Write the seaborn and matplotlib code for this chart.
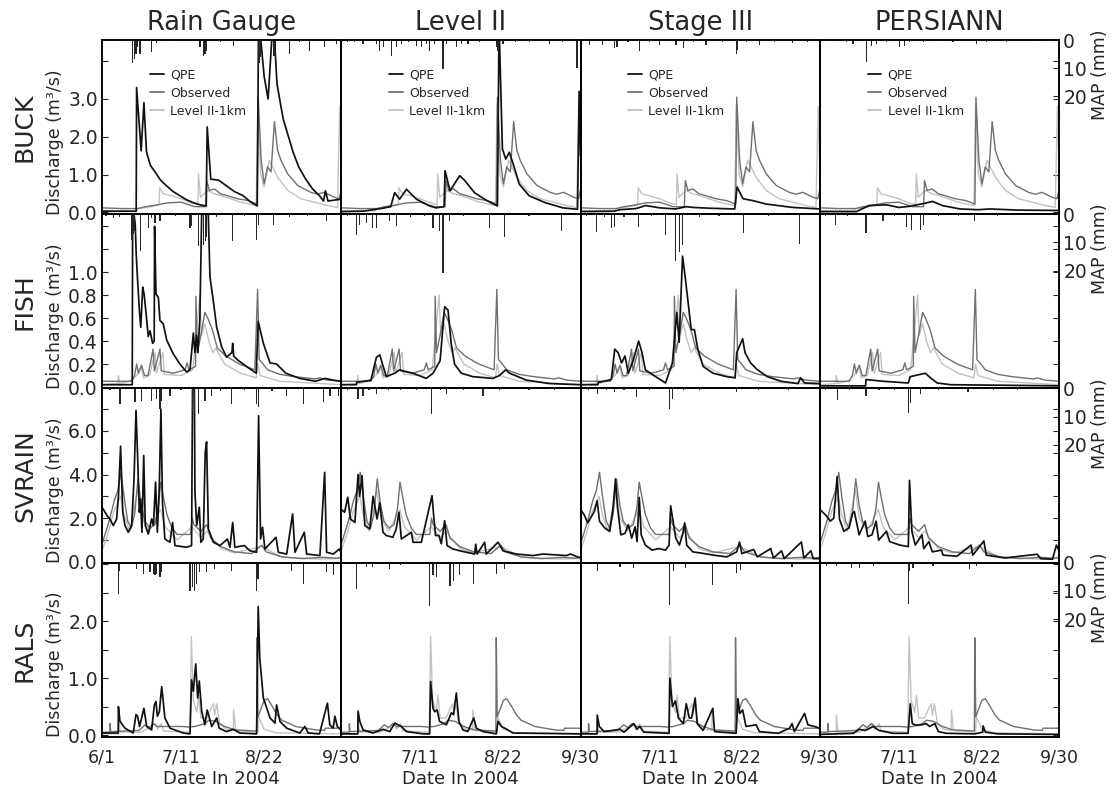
import matplotlib
matplotlib.use("Agg")
import matplotlib.pyplot as plt
import pandas as pd
import seaborn as sns
from matplotlib.lines import Line2D

# ---------------------------------------------------------------------------
# Layout labels
# ---------------------------------------------------------------------------
PRODUCTS = ["Rain Gauge", "Level II", "Stage III", "PERSIANN"]
BASINS = ["BUCK", "FISH", "SVRAIN", "RALS"]
SERIES_NAMES = ["QPE", "Observed", "Level II-1km"]

# days counted from 6/1/2004
TICK_DAYS = [0, 40, 82, 121]
TICK_LABELS = ["6/1", "7/11", "8/22", "9/30"]
MINOR_DAYS = [20, 61, 101.5]

# discharge axis per basin
Y_LIMITS = [(-0.05, 4.56), (-0.013, 1.505), (-0.05, 7.95), (-0.035, 3.03)]
Y_TICKS = [
    [0, 1, 2, 3, 4],
    [0, 0.2, 0.4, 0.6, 0.8, 1.0, 1.2, 1.4],
    [0, 1, 2, 3, 4, 5, 6, 7],
    [0, 0.5, 1.0, 1.5, 2.0, 2.5, 3.0],
]
Y_TICK_LABELS = [
    ["0.0", "1.0", "2.0", "3.0", ""],
    ["0.0", "0.2", "0.4", "0.6", "0.8", "1.0", "", ""],
    ["0.0", "", "2.0", "", "4.0", "", "6.0", ""],
    ["0.0", "", "1.0", "", "2.0", "", ""],
]

# mean areal precipitation axis (hanging bars)
MAP_MAX = 61.8
MAP_TICKS = [0, 10, 20]

# ---------------------------------------------------------------------------
# Discharge (m3/s): (day, value) pairs
# ---------------------------------------------------------------------------
BUCK_OBS = [(0, 0.12), (10, 0.1), (18, 0.1), (22, 0.15), (28, 0.2), (33, 0.25), (40, 0.27),
            (44, 0.2), (47, 0.15), (52.5, 0.15), (53, 0.84), (54.3, 0.58), (56.8, 0.62),
            (60, 0.49), (63.5, 0.44), (68.5, 0.36), (74, 0.31), (78.5, 0.22), (79.0, 3.05),
            (80.5, 1.38), (82, 0.76), (83.7, 1.2), (85.5, 1.07), (87.2, 2.4), (88.8, 1.64),
            (90.5, 1.38), (93.9, 1.02), (99, 0.71), (105.6, 0.53), (109, 0.48), (112.4, 0.53),
            (117.5, 0.4), (120, 0.36), (121, 0.6)]
BUCK_L2 = [(0, 0.05), (17, 0.04), (18.5, 0.1), (25, 0.15), (28.8, 0.2), (29.2, 0.65), (31, 0.49),
           (35, 0.44), (40, 0.36), (45, 0.25), (48.5, 0.2), (48.8, 1.02), (49.8, 0.4),
           (53.4, 0.58), (56.8, 0.49), (60, 0.45), (65, 0.36), (70, 0.27), (78, 0.18),
           (78.8, 2.85), (80.2, 1.02), (82, 0.67), (84.6, 1.38), (86.3, 1.2), (88.8, 0.93),
           (93.9, 0.58), (100.6, 0.36), (107.4, 0.27), (114, 0.18), (119.1, 0.13),
           (120.2, 2.8), (121, 1.2)]
BUCK_QPE_GAUGE = [(0, 0.03), (17.3, 0.03), (17.5, 3.3), (19.8, 1.63), (21.2, 2.9), (22.5, 1.6),
                  (24.5, 1.24), (27, 1.06), (29.5, 0.86), (32.7, 0.7), (36, 0.55), (39.4, 0.44),
                  (42.5, 0.34), (46, 0.26), (49.5, 0.2), (52.7, 0.17),
                  (53.2, 2.26), (55, 0.88), (59, 0.85), (63, 0.7), (67, 0.55), (71.4, 0.44),
                  (75, 0.28), (78.5, 0.17),
                  (79.2, 5.2), (82, 3.6), (84, 3.0), (86.6, 5.2), (88.5, 3.4), (91.6, 2.48),
                  (96.6, 1.6), (99.5, 1.2), (103, 0.88), (106.5, 0.62), (110, 0.44), (112, 0.3),
                  (113, 0.57), (114.3, 0.3), (117, 0.32), (121, 0.35)]
BUCK_QPE_LEVEL2 = [(0, 0.02), (10.8, 0.03), (20, 0.1), (25, 0.15), (27, 0.52), (29.5, 0.35),
                   (33, 0.61), (38, 0.35), (44.6, 0.17), (48, 0.12), (52, 0.15), (52.5, 1.1),
                   (55, 0.57), (59.9, 0.97), (62.5, 0.84), (67.4, 0.52), (74, 0.3), (79, 0.17),
                   (79.8, 5.0), (81.5, 1.68), (83.2, 1.41), (85, 1.59), (87.5, 1.19), (90, 0.75),
                   (95, 0.44), (103, 0.26), (112, 0.12), (119.5, 0.08), (120.3, 3.2), (121, 1.5)]
BUCK_QPE_STAGE3 = [(0, 0.02), (17, 0.03), (20, 0.07), (28, 0.1), (33, 0.18), (40, 0.12),
                   (48, 0.09), (53.5, 0.15), (57, 0.13), (65, 0.11), (78, 0.09), (79.2, 0.67),
                   (82.2, 0.36), (87.2, 0.31), (93.9, 0.22), (107.4, 0.13), (121, 0.09)]
BUCK_QPE_PERSIANN = [(0, 0.02), (18.5, 0.02), (25, 0.18), (33.7, 0.2), (40, 0.13), (45.5, 0.16),
                     (54, 0.25), (57, 0.29), (62, 0.18), (71, 0.09), (80, 0.07), (86, 0.09),
                     (100, 0.06), (121, 0.05)]

FISH_OBS = [(0, 0.05), (15, 0.05), (16.5, 0.1), (17.5, 0.2), (18.5, 0.12), (20, 0.19),
            (21.5, 0.1), (23.3, 0.1), (25.8, 0.33), (26.5, 0.14), (29.3, 0.33), (30, 0.14),
            (36, 0.12), (42, 0.15), (43, 0.21), (44, 0.15), (47.3, 0.18), (47.5, 0.79),
            (48.2, 0.3), (50, 0.45), (52, 0.65), (53.5, 0.6), (55.8, 0.5), (58.3, 0.34),
            (62.6, 0.27), (69.5, 0.2), (77.3, 0.15), (78.7, 0.85), (79.5, 0.24), (81, 0.21),
            (83.7, 0.15), (90, 0.11), (97.4, 0.09), (108, 0.07), (110, 0.08), (114, 0.06),
            (121, 0.05)]
FISH_L2 = [(0, 0.02), (8, 0.03), (8.3, 0.1), (9, 0.03), (14, 0.05), (17.5, 0.1), (19.8, 0.18),
           (21, 0.08), (24, 0.1), (26.8, 0.3), (27.5, 0.12), (30.8, 0.3), (31.5, 0.11),
           (40, 0.1), (46, 0.15), (49.5, 0.8), (50.3, 0.45), (52, 0.55), (54, 0.4), (56, 0.3),
           (57.5, 0.34), (62, 0.2), (70, 0.12), (78, 0.08), (78.8, 0.2), (80, 0.1), (90, 0.05),
           (121, 0.02)]
FISH_QPE_GAUGE = [(0, 0.02), (15.3, 0.02), (15.5, 1.6), (16.8, 1.42), (17.3, 1.16), (17.9, 0.96),
                  (18.9, 0.67), (19.6, 0.52), (20.6, 0.87), (21.3, 0.81), (22.3, 0.64),
                  (23.4, 0.44), (24.3, 0.49), (25.6, 0.38), (26.4, 0.4), (26.6, 1.4),
                  (27.3, 0.81), (28.5, 0.78), (29.3, 0.58), (31, 0.55), (32.7, 0.41), (36, 0.29),
                  (39.4, 0.2), (42.8, 0.13), (44.5, 0.15), (46.2, 0.47), (47, 0.3), (47.8, 0.45),
                  (48.5, 0.3), (49.5, 0.6), (50.5, 1.6), (53.6, 1.6), (54.6, 0.96), (56.3, 0.75),
                  (58, 0.52), (60.5, 0.35), (63, 0.26), (65.7, 0.3), (66.1, 0.38), (66.6, 0.27),
                  (69, 0.23), (73, 0.18), (78, 0.12), (79, 0.57), (81.6, 0.38), (83.2, 0.3),
                  (85, 0.21), (88.3, 0.2), (93, 0.12), (100, 0.075), (108, 0.05), (112.7, 0.075),
                  (117, 0.06), (121, 0.05)]
FISH_QPE_LEVEL2 = [(0, 0.02), (7.7, 0.02), (7.8, 0.04), (15, 0.06), (17.8, 0.26), (19.5, 0.28),
                   (21.2, 0.18), (22.8, 0.09), (27, 0.12), (29.6, 0.15), (31.3, 0.14),
                   (36.3, 0.12), (43, 0.075), (46.4, 0.12), (50, 0.23), (52.3, 0.7), (54, 0.67),
                   (55.6, 0.38), (57.3, 0.2), (60.7, 0.12), (66.6, 0.09), (76.7, 0.075),
                   (80, 0.1), (83.2, 0.15), (85.2, 0.12), (93.6, 0.06), (105.4, 0.03), (121, 0.02)]
FISH_QPE_STAGE3 = [(0, 0.02), (8.8, 0.02), (9, 0.04), (15.6, 0.065), (17.3, 0.33), (19, 0.3),
                   (20.8, 0.21), (22.5, 0.27), (24.2, 0.12), (26.8, 0.24), (29.4, 0.4),
                   (31.1, 0.3), (32.8, 0.15), (38, 0.09), (43, 0.035), (46.5, 0.21), (48.7, 0.65),
                   (49.9, 0.39), (51.6, 1.14), (53, 0.95), (54.2, 0.77), (56, 0.5), (57.6, 0.5),
                   (59.3, 0.33), (62, 0.18), (67, 0.12), (74, 0.09), (78.2, 0.08), (79, 0.3),
                   (82, 0.42), (83.2, 0.3), (86, 0.21), (89.5, 0.15), (94.5, 0.09),
                   (101.4, 0.05), (110, 0.03), (111.3, 0.08), (113.3, 0.035), (121, 0.03)]
FISH_QPE_PERSIANN = [(0, 0.01), (23.2, 0.01), (23.4, 0.065), (32, 0.05), (44.8, 0.035),
                     (45.7, 0.09), (50.8, 0.11), (53.4, 0.12), (56, 0.08), (59.4, 0.035),
                     (66.3, 0.02), (121, 0.01)]

SVRAIN_OBS = [(0, 0.8), (3.6, 1.86), (6.2, 2.8), (8, 3.26), (9.6, 4.1), (11.2, 2.95), (13, 1.86),
              (14.8, 1.54), (16.5, 2.17), (18.2, 3.8), (19.9, 2.6), (21.6, 1.86), (24.2, 1.54),
              (26.7, 1.7), (28.5, 2.48), (29.7, 3.65), (31.1, 2.95), (32.8, 2.17), (35.4, 1.54),
              (38, 1.25), (44.8, 1.25), (45.6, 2.0), (46.5, 1.7), (50, 1.39), (53, 1.7),
              (55, 1.08), (60, 0.69), (67, 0.45), (75.6, 0.37), (80.8, 0.76), (83, 0.45),
              (91, 0.22), (101.4, 0.14), (111.7, 0.2), (118.5, 0.16), (121, 0.2)]
SVRAIN_L2 = [(0, 0.5), (3, 1.3), (6, 2.3), (9.4, 3.0), (11, 2.2), (14, 1.4), (18, 3.3), (20, 2.0),
             (24, 1.4), (29.6, 2.4), (32, 1.6), (38, 1.0), (45.5, 1.6), (50, 1.1), (53, 1.4),
             (60, 0.6), (67, 0.4), (80.6, 0.7), (91, 0.2), (110, 0.12), (121, 0.15)]
SVRAIN_QPE_GAUGE = [(0, 2.5), (2.7, 2.1), (4, 1.96), (5.7, 1.66), (7.4, 1.96), (8.3, 3.0),
                    (9.4, 5.3), (10.5, 2.27), (11.6, 1.66), (13.3, 1.35), (15, 1.66), (16.2, 3.8),
                    (17.2, 6.94), (18, 4.87), (18.9, 2.27), (19.5, 2.88), (20.2, 1.35),
                    (21.1, 4.87), (21.9, 1.66), (23.4, 1.27), (25.1, 1.96), (26, 1.66),
                    (27.1, 3.65), (28, 1.35), (29, 3.5), (29.8, 7.0), (30.6, 2.7), (31.8, 1.04),
                    (34.4, 0.89), (35.7, 1.8), (36.9, 0.74), (42.8, 0.66), (45.3, 0.74),
                    (45.8, 8.2), (46.7, 8.2), (47, 3.2), (47.9, 1.66), (49.2, 2.5), (50, 0.89),
                    (51.2, 1.04), (52.2, 5.0), (52.9, 5.5), (53.8, 1.5), (56.3, 0.89),
                    (59.7, 0.74), (63.4, 1.04), (64.7, 0.66), (66.1, 1.8), (67.2, 0.66),
                    (72, 0.74), (74.8, 0.5), (78.2, 0.43), (79.2, 6.7), (80.2, 1.04),
                    (81.2, 1.58), (82.4, 0.58), (88, 1.12), (89.2, 0.43), (93.4, 0.35),
                    (96.4, 2.19), (97.6, 0.43), (102.3, 1.35), (103.5, 0.35), (110.2, 0.28),
                    (112.6, 4.1), (113.6, 0.43), (117, 0.35), (120, 0.58), (121, 0.4)]
SVRAIN_QPE_LEVEL2 = [(0, 2.4), (1.7, 2.27), (3.3, 2.96), (4.6, 1.96), (6.9, 1.8), (8.5, 4.0),
                     (9.3, 3.0), (10.5, 3.95), (11.9, 1.66), (14.4, 1.5), (16.1, 3.0), (17.1, 2.5),
                     (18.1, 1.96), (19.5, 2.7), (21.1, 1.35), (22.8, 1.2), (26.1, 1.12),
                     (27.8, 1.5), (29.2, 2.27), (30.4, 1.04), (35.5, 1.35), (36.3, 0.89),
                     (40.5, 0.89), (45.9, 3.03), (46.9, 1.96), (47.7, 1.2), (49.4, 1.2),
                     (50.6, 0.82), (52.3, 1.88), (53.5, 0.74), (56.5, 0.58), (59.9, 0.5),
                     (67.5, 0.35), (68, 0.8), (68.7, 0.35), (72.5, 0.89), (73.3, 0.35),
                     (79.3, 0.89), (81.8, 0.5), (88.5, 0.35), (97, 0.28), (102, 0.35),
                     (113.8, 0.28), (116, 0.35), (120, 0.2), (121, 0.2)]
SVRAIN_QPE_STAGE3 = [(0, 2.4), (1.9, 2.15), (3.6, 1.78), (7, 2.3), (8.4, 2.8), (9.6, 1.86),
                     (12.2, 1.55), (14.8, 1.39), (16.5, 2.5), (17.7, 3.8), (18.7, 2.5),
                     (20.4, 1.23), (22.5, 1.3), (24.2, 1.7), (25.9, 1.08), (27.6, 1.6),
                     (28.6, 0.92), (29.7, 2.95), (30.7, 1.23), (32.8, 0.76), (36.2, 0.53),
                     (39.6, 0.6), (43, 0.53), (44.8, 0.76), (45.6, 2.56), (46.8, 1.86),
                     (48.2, 1.08), (50, 0.76), (51.6, 1.23), (52.7, 1.78), (53.7, 0.76),
                     (56.8, 0.45), (62.8, 0.37), (67, 0.3), (74, 0.22), (79, 0.45), (80.4, 0.9),
                     (81.6, 0.37), (87.6, 0.56), (89.4, 0.22), (96.2, 0.6), (97.6, 0.17),
                     (101.7, 0.5), (103, 0.14), (111.7, 0.9), (113, 0.17), (116.5, 0.5),
                     (117.7, 0.14), (121, 0.14)]
SVRAIN_QPE_PERSIANN = [(0, 2.4), (2.9, 2.15), (5.4, 1.86), (7.1, 2.0), (8.8, 3.9), (10, 1.95),
                       (12.2, 1.39), (14.8, 1.55), (16.5, 2.2), (17.5, 2.3), (19.9, 1.23),
                       (23, 1.86), (24.3, 1.15), (26.4, 1.23), (28.5, 1.86), (29.8, 0.99),
                       (33.7, 1.39), (35.4, 0.92), (40.5, 0.76), (44.8, 0.69), (45.4, 3.73),
                       (46.6, 1.39), (48.3, 0.76), (51.7, 1.23), (52.6, 0.6), (55.2, 0.92),
                       (56.9, 0.45), (61.5, 0.53), (62.4, 0.3), (69.4, 0.25), (76.5, 0.76),
                       (77.4, 0.3), (83, 0.95), (84.2, 0.3), (93.6, 0.17), (110, 0.34),
                       (111.7, 0.14), (117.7, 0.11), (119.7, 0.76), (121, 0.5)]

RALS_OBS = [(0, 0.05), (4.0, 0.05), (4.1, 0.2), (4.4, 0.06), (18.5, 0.08), (20, 0.12),
            (21.8, 0.18), (24, 0.13), (26, 0.2), (27.8, 0.15), (40.4, 0.15), (44, 0.14),
            (47, 0.15), (52, 0.2), (54, 0.26), (57.5, 0.24), (62, 0.15), (67.4, 0.09),
            (78.2, 0.07), (78.4, 1.71), (78.9, 0.32), (82, 0.61), (83.7, 0.64), (86.2, 0.5),
            (88.7, 0.35), (91, 0.26), (98, 0.15), (108, 0.09), (112.5, 0.08), (113, 0.12),
            (121, 0.12)]
RALS_L2 = [(0, 0.02), (8.3, 0.02), (8.4, 0.35), (9.2, 0.05), (20, 0.05), (27, 0.2), (28, 0.1),
           (30, 0.2), (31, 0.07), (44.5, 0.05), (45.2, 1.73), (46.2, 0.61), (48, 0.4),
           (48.9, 0.7), (50, 0.3), (53, 0.3), (55.6, 0.5), (56.4, 0.55), (57, 0.35), (58, 0.55),
           (59.5, 0.2), (63, 0.1), (66.4, 0.08), (66.6, 0.44), (67.6, 0.08), (78.8, 0.05),
           (79.2, 0.32), (82, 0.1), (88, 0.04), (121, 0.02)]
RALS_QPE_GAUGE = [(0, 0.035), (8.2, 0.035), (8.3, 0.5), (9.1, 0.24), (11.6, 0.12), (15.8, 0.035),
                  (17.2, 0.36), (18, 0.33), (19, 0.15), (21.2, 0.47), (22.6, 0.15), (25.1, 0.09),
                  (26.5, 0.53), (27.3, 0.59), (28, 0.33), (29, 0.41), (30.2, 0.85), (31.8, 0.3),
                  (34.4, 0.12), (41.1, 0.035), (44.5, 0.02), (45.3, 0.97), (46.2, 0.77),
                  (47.4, 1.25), (48.4, 0.65), (49.2, 0.95), (50.4, 0.42), (52, 0.18),
                  (53.2, 0.44), (55.5, 0.15), (58, 0.3), (59.3, 0.12), (63, 0.06), (66.4, 0.1),
                  (69.8, 0.035), (78.2, 0.02), (79, 2.26), (79.8, 1.35), (81.6, 0.65), (85, 0.3),
                  (87.5, 0.21), (88.3, 0.53), (90, 0.24), (93.4, 0.12), (100, 0.035),
                  (102.6, 0.15), (104.3, 0.035), (110, 0.02), (114, 0.56), (115.2, 0.18),
                  (116.9, 0.12), (117.8, 0.33), (119, 0.15), (121, 0.08)]
RALS_QPE_LEVEL2 = [(0, 0.02), (8.4, 0.02), (8.5, 0.42), (9.4, 0.24), (11, 0.09), (16, 0.035),
                   (21.1, 0.1), (24.5, 0.06), (27.1, 0.21), (28.8, 0.18), (30.4, 0.15), (33, 0.06),
                   (41.6, 0.02), (44.7, 0.02), (45.2, 0.94), (46.4, 0.47), (47.2, 0.41),
                   (48.5, 0.44), (49.7, 0.24), (53.2, 0.18), (55.7, 0.39), (56.8, 0.36),
                   (58.2, 0.74), (59.5, 0.24), (61.5, 0.09), (64, 0.06), (67, 0.3), (68.4, 0.12),
                   (71.7, 0.06), (78.4, 0.02), (79.3, 0.24), (81, 0.15), (83.8, 0.1),
                   (86.8, 0.035), (121, 0.02)]
RALS_QPE_STAGE3 = [(0, 0.02), (8.4, 0.02), (8.5, 0.35), (9.5, 0.15), (12, 0.06), (20, 0.1),
                   (22, 0.05), (27, 0.2), (28.5, 0.1), (30, 0.15), (32, 0.05), (44.8, 0.03),
                   (45.2, 1.0), (46.5, 0.5), (48, 0.6), (49.5, 0.3), (52, 0.2), (53.5, 0.55),
                   (55, 0.3), (56.2, 0.3), (58, 0.65), (59, 0.2), (62, 0.08), (66.9, 0.47),
                   (67.8, 0.06), (78.7, 0.03), (79.6, 0.64), (80.6, 0.38), (82, 0.44),
                   (83.7, 0.15), (88.8, 0.18), (90.5, 0.06), (100, 0.03), (105.7, 0.12),
                   (107, 0.2), (108.2, 0.06), (113.3, 0.38), (115, 0.18), (118.3, 0.15),
                   (121, 0.12)]
RALS_QPE_PERSIANN = [(0, 0.01), (17, 0.03), (20, 0.1), (23, 0.08), (27, 0.15), (30, 0.08),
                     (37, 0.03), (44.7, 0.03), (45.8, 0.55), (46.8, 0.2), (48.9, 0.17),
                     (51.4, 0.18), (53.9, 0.2), (55.5, 0.15), (58.2, 0.2), (60, 0.06), (64, 0.03),
                     (78.4, 0.02), (82.4, 0.05), (82.6, 0.16), (83.8, 0.05), (90, 0.02),
                     (121, 0.01)]

# ---------------------------------------------------------------------------
# Mean areal precipitation (mm): (day, depth) pairs
# ---------------------------------------------------------------------------
BUCK_RAIN_GAUGE = [(2, 0.5), (6, 0.4), (15.5, 8), (16.3, 6.8), (17.2, 5), (17.8, 2.6), (19.2, 5),
                   (25.1, 4.4), (27.6, 1), (35, 0.5), (49.6, 2.6), (51.2, 5.6), (52.1, 5),
                   (53, 3.8), (60, 0.6), (66.4, 2), (79, 9), (79.5, 8), (80.2, 6.2), (87, 5.6),
                   (87.6, 6.8), (94.8, 5), (100, 0.8), (105, 3.8), (112.7, 2.6), (118.6, 1.4)]
BUCK_RAIN_LEVEL2 = [(3, 0.6), (6.8, 0.8), (11, 1.4), (17.8, 1.4), (19.5, 3.8), (21.2, 2.6),
                    (25.4, 5.6), (27.9, 2.6), (30.4, 1.4), (34, 0.6), (38, 2), (40.5, 2.6),
                    (43, 1.4), (44.7, 3.8), (47.3, 1.4), (51.5, 10.4), (53.2, 1.4), (58.3, 2.6),
                    (60.8, 1.4), (64.1, 1.4), (70, 0.6), (78.4, 2.6), (79.3, 3.8), (81.8, 1.4),
                    (88, 0.6), (95.3, 0.8), (105.4, 1.4), (112, 0.6), (119.2, 9.8)]
BUCK_RAIN_STAGE3 = [(4.6, 1.8), (11.3, 1.8), (17.2, 3), (18.5, 2.4), (24, 0.8), (29.8, 3.9),
                    (35, 0.8), (39.9, 1.8), (48.3, 1.8), (52, 3), (57, 0.8), (63.5, 1.8),
                    (72, 0.6), (78.7, 4.8), (79.5, 3.6), (84, 0.8), (90.5, 1.8), (98, 0.6),
                    (107.4, 1.2), (115, 0.6)]
BUCK_RAIN_PERSIANN = [(5, 0.5), (13.5, 0.8), (16.8, 1.4), (23.6, 7.7), (26, 2), (28.5, 1.4),
                      (33.7, 0.8), (40.4, 2.6), (43, 2), (45.5, 0.8), (52.3, 0.8), (60, 0.5),
                      (67.4, 0.8), (79.2, 1.4), (84.2, 0.8), (94.4, 0.8), (108, 0.5)]

FISH_RAIN_GAUGE = [(2, 0.6), (5.7, 1.5), (9, 1), (15.2, 9), (15.8, 7), (16.5, 6), (19.6, 13),
                   (23.4, 4.9), (25, 1.5), (26.8, 3.1), (29.3, 2.5), (37, 0.6), (44.5, 4.9),
                   (45.3, 4.3), (48.7, 11.4), (51.2, 10.8), (52.2, 9.6), (53, 7.9), (58, 0.8),
                   (66, 9.6), (72, 0.6), (78.2, 9), (79, 3.7), (86.6, 3.7), (95, 1), (104, 0.6),
                   (113.6, 2.5)]
FISH_RAIN_LEVEL2 = [(3, 0.6), (7.7, 7.5), (9.4, 3.7), (12.7, 3.1), (16, 4.9), (17.8, 4.9),
                    (24.5, 2.5), (27.9, 4.3), (35, 1), (42, 0.6), (46.4, 4.9), (49.8, 6),
                    (51.5, 21), (54.8, 2.5), (62, 0.6), (75, 4.9), (82.6, 7.9), (95, 0.6),
                    (111.3, 6)]
FISH_RAIN_STAGE3 = [(3, 0.6), (7.9, 6.2), (12, 1), (15.6, 5), (17.3, 4.4), (22, 1), (29.4, 4.4),
                    (36, 0.6), (43.1, 7.4), (48.2, 16.5), (49.9, 13.5), (51.6, 11), (60, 0.8),
                    (70, 0.6), (82.5, 6.8), (95, 0.6), (110.8, 10.4)]
FISH_RAIN_PERSIANN = [(3, 0.5), (7.9, 3.7), (14, 0.6), (23.4, 6.8), (32, 2.5), (38, 0.6),
                      (44, 4.4), (46.5, 5.6), (50.8, 5.6), (52.5, 3.7), (60, 0.6), (70, 0.5),
                      (78.4, 2.5), (90, 0.5)]

SVRAIN_RAIN_GAUGE = [(4, 0.6), (9.1, 5.5), (16.7, 4.9), (20, 4.3), (25, 4.3), (27.6, 3.7),
                     (29.3, 7.3), (30.2, 4.3), (34.4, 2.5), (40, 0.6), (45.8, 7.9), (46.6, 7.9),
                     (48.7, 9), (52.1, 4.3), (55.5, 2.5), (60, 0.8), (65.6, 5.5), (72, 0.6),
                     (78.2, 5.5), (79, 6.7), (86, 0.8), (93.4, 2.5), (101.8, 5.5), (112, 4.9),
                     (115.3, 2.5), (119.5, 2.5)]
SVRAIN_RAIN_LEVEL2 = [(3, 0.5), (8.5, 3.7), (11, 2.5), (14, 0.6), (17.8, 1.9), (24, 0.5),
                      (30, 0.6), (38, 0.5), (45.6, 9), (50, 0.6), (53.2, 1.9), (62, 0.5),
                      (71.7, 2.5), (80, 0.6), (95, 0.5), (108, 0.5)]
SVRAIN_RAIN_STAGE3 = [(4, 0.5), (8.8, 1.9), (13, 0.6), (17.3, 1.3), (22, 0.5), (28.5, 3.1),
                      (35, 0.5), (45.1, 7.4), (46.4, 3.8), (52, 0.6), (60, 0.5), (79, 1.3),
                      (90, 0.5), (105, 0.5)]
SVRAIN_RAIN_PERSIANN = [(3, 0.5), (9, 4), (15, 0.6), (23.4, 2.5), (30, 0.6), (38, 0.5),
                        (45, 8.8), (45.8, 5), (51, 1.9), (60, 0.5), (75, 1.3), (88, 0.5),
                        (100, 0.5)]

RALS_RAIN_GAUGE = [(8.3, 11), (9, 2.8), (13, 0.6), (17.5, 2.2), (20.9, 4), (24.3, 3.3),
                   (25.9, 4), (26.8, 4.5), (27.6, 4), (29.3, 5.1), (29.8, 3.3), (36, 0.6),
                   (44.5, 9.9), (45.7, 8.7), (46.7, 9.9), (47.8, 7.5), (49.5, 3.3), (52.9, 3.3),
                   (57.1, 2.2), (65.6, 2.8), (72, 0.6), (78.2, 9.9), (78.9, 5.7), (88, 0.6),
                   (95.9, 2.8), (101.8, 7.5), (108, 0.6), (113.6, 3.3), (117, 4.5)]
RALS_RAIN_LEVEL2 = [(3, 0.5), (7.7, 9.3), (12.7, 1.5), (16, 1.5), (20, 0.6), (24.5, 2.2),
                    (30, 0.8), (38, 0.5), (44.7, 15.2), (46.4, 4.5), (48.1, 5.1), (55, 8.1),
                    (56.7, 6.3), (60, 4.5), (67, 7.5), (72, 0.6), (78.4, 3.9), (82.6, 2.2),
                    (95, 0.5), (108, 0.5)]
RALS_RAIN_STAGE3 = [(3, 0.5), (8.5, 3), (14, 0.6), (20, 1.5), (27, 2), (36, 0.5), (45, 15),
                    (47, 3), (53, 2), (60, 0.6), (66.9, 8), (79, 3.5), (81, 2.5), (92, 0.5),
                    (107, 1.5), (115, 0.5)]
RALS_RAIN_PERSIANN = [(3.4, 1.2), (8.4, 1.2), (16, 1.7), (20.2, 1.7), (27, 1.2), (35, 0.5),
                      (44.8, 14.8), (45.5, 2.9), (47.2, 1.7), (57.3, 1.2), (66, 0.5),
                      (75.8, 2.2), (79.1, 1.2), (95, 0.5)]

# ---------------------------------------------------------------------------
# Grouping by basin (rows) and product (columns)
# ---------------------------------------------------------------------------
OBSERVED = [BUCK_OBS, FISH_OBS, SVRAIN_OBS, RALS_OBS]
LEVEL2_1KM = [BUCK_L2, FISH_L2, SVRAIN_L2, RALS_L2]
QPE_RUNS = [
    [BUCK_QPE_GAUGE, BUCK_QPE_LEVEL2, BUCK_QPE_STAGE3, BUCK_QPE_PERSIANN],
    [FISH_QPE_GAUGE, FISH_QPE_LEVEL2, FISH_QPE_STAGE3, FISH_QPE_PERSIANN],
    [SVRAIN_QPE_GAUGE, SVRAIN_QPE_LEVEL2, SVRAIN_QPE_STAGE3, SVRAIN_QPE_PERSIANN],
    [RALS_QPE_GAUGE, RALS_QPE_LEVEL2, RALS_QPE_STAGE3, RALS_QPE_PERSIANN],
]
RAIN = [
    [BUCK_RAIN_GAUGE, BUCK_RAIN_LEVEL2, BUCK_RAIN_STAGE3, BUCK_RAIN_PERSIANN],
    [FISH_RAIN_GAUGE, FISH_RAIN_LEVEL2, FISH_RAIN_STAGE3, FISH_RAIN_PERSIANN],
    [SVRAIN_RAIN_GAUGE, SVRAIN_RAIN_LEVEL2, SVRAIN_RAIN_STAGE3, SVRAIN_RAIN_PERSIANN],
    [RALS_RAIN_GAUGE, RALS_RAIN_LEVEL2, RALS_RAIN_STAGE3, RALS_RAIN_PERSIANN],
]

# ---------------------------------------------------------------------------
# Styling
# ---------------------------------------------------------------------------
sns.set_style("white")
plt.rcParams["font.family"] = ["DejaVu Sans"]
plt.rcParams["axes.linewidth"] = 1.1
plt.rcParams["axes.edgecolor"] = "black"

COLOR_QPE = "#111111"
COLOR_OBS = "#707070"
COLOR_L2 = "#c2c2c2"
COLOR_RAIN = "#262626"


def frame(pairs, value_name):
    return pd.DataFrame(pairs, columns=["day", value_name])


fig = plt.figure(figsize=(11.12, 7.94), dpi=100)
axes = fig.subplots(4, 4)
fig.subplots_adjust(left=102 / 1112, right=1059 / 1112, top=1 - 40 / 794,
                    bottom=1 - 737 / 794, wspace=0, hspace=0)

for r in range(4):
    for c in range(4):
        ax = axes[r, c]

        # hanging precipitation bars on an inverted twin axis
        tw = ax.twinx()
        rain = frame(RAIN[r][c], "mm")
        tw.bar(rain["day"], rain["mm"], width=0.6, color=COLOR_RAIN, linewidth=0)
        tw.set_ylim(MAP_MAX, 0)

        # hydrographs
        for pairs, color, lw in ((LEVEL2_1KM[r], COLOR_L2, 1.0),
                                 (OBSERVED[r], COLOR_OBS, 1.0),
                                 (QPE_RUNS[r][c], COLOR_QPE, 1.25)):
            df = frame(pairs, "flow")
            sns.lineplot(data=df, x="day", y="flow", ax=ax, color=color, linewidth=lw,
                         estimator=None, sort=False, legend=False)

        ax.set_xlim(0, 121)
        ax.set_ylim(*Y_LIMITS[r])
        ax.set_xlabel("")
        ax.set_ylabel("")

        # x axis
        ax.set_xticks(TICK_DAYS)
        ax.set_xticks(MINOR_DAYS, minor=True)
        if r == 3:
            labels = list(TICK_LABELS)
            if c > 0:
                labels[0] = ""
            ax.set_xticklabels(labels, fontsize=12.5)
            ax.set_xlabel("Date In 2004", fontsize=13, labelpad=3)
        else:
            ax.set_xticklabels([])
        ax.tick_params(axis="x", which="major", direction="in", length=5, width=0.8,
                       pad=8, top=False)
        ax.tick_params(axis="x", which="minor", direction="in", length=3, width=0.8,
                       top=False)

        # discharge axis
        ax.set_yticks(Y_TICKS[r])
        ax.set_yticklabels(Y_TICK_LABELS[r] if c == 0 else [""] * len(Y_TICKS[r]),
                           fontsize=13.5)
        ax.tick_params(axis="y", direction="in", length=4, width=0.8, pad=3,
                       left=(c == 0), right=(c == 3), labelleft=(c == 0), labelright=False)

        # precipitation axis
        if c == 3:
            tw.set_yticks(MAP_TICKS)
            tw.set_yticklabels([str(t) for t in MAP_TICKS], fontsize=13.5)
            tw.tick_params(axis="y", direction="in", length=4, width=0.8, pad=3)
            tw.text(1.172, 0.80, "MAP (mm)", transform=tw.transAxes, rotation=90,
                    ha="center", va="center", fontsize=12.5)
        else:
            tw.set_yticks([])

        if c == 0:
            ax.text(-0.322, 0.5, BASINS[r], transform=ax.transAxes, rotation=90,
                    ha="center", va="center", fontsize=18)
            ax.text(-0.197, 0.415, "Discharge (m³/s)", transform=ax.transAxes,
                    rotation=90, ha="center", va="center", fontsize=12.5)

        if r == 0:
            ax.set_title(PRODUCTS[c], fontsize=18.5, pad=7)
            handles = [Line2D([], [], color=COLOR_QPE, lw=1.3),
                       Line2D([], [], color=COLOR_OBS, lw=1.3),
                       Line2D([], [], color=COLOR_L2, lw=1.3)]
            ax.legend(handles, SERIES_NAMES, loc="upper left", bbox_to_anchor=(0.2, 0.835),
                      frameon=False, fontsize=9, handlelength=1.1, handletextpad=0.5,
                      labelspacing=0.4, borderpad=0, borderaxespad=0)

fig.savefig("out.png", dpi=100)
